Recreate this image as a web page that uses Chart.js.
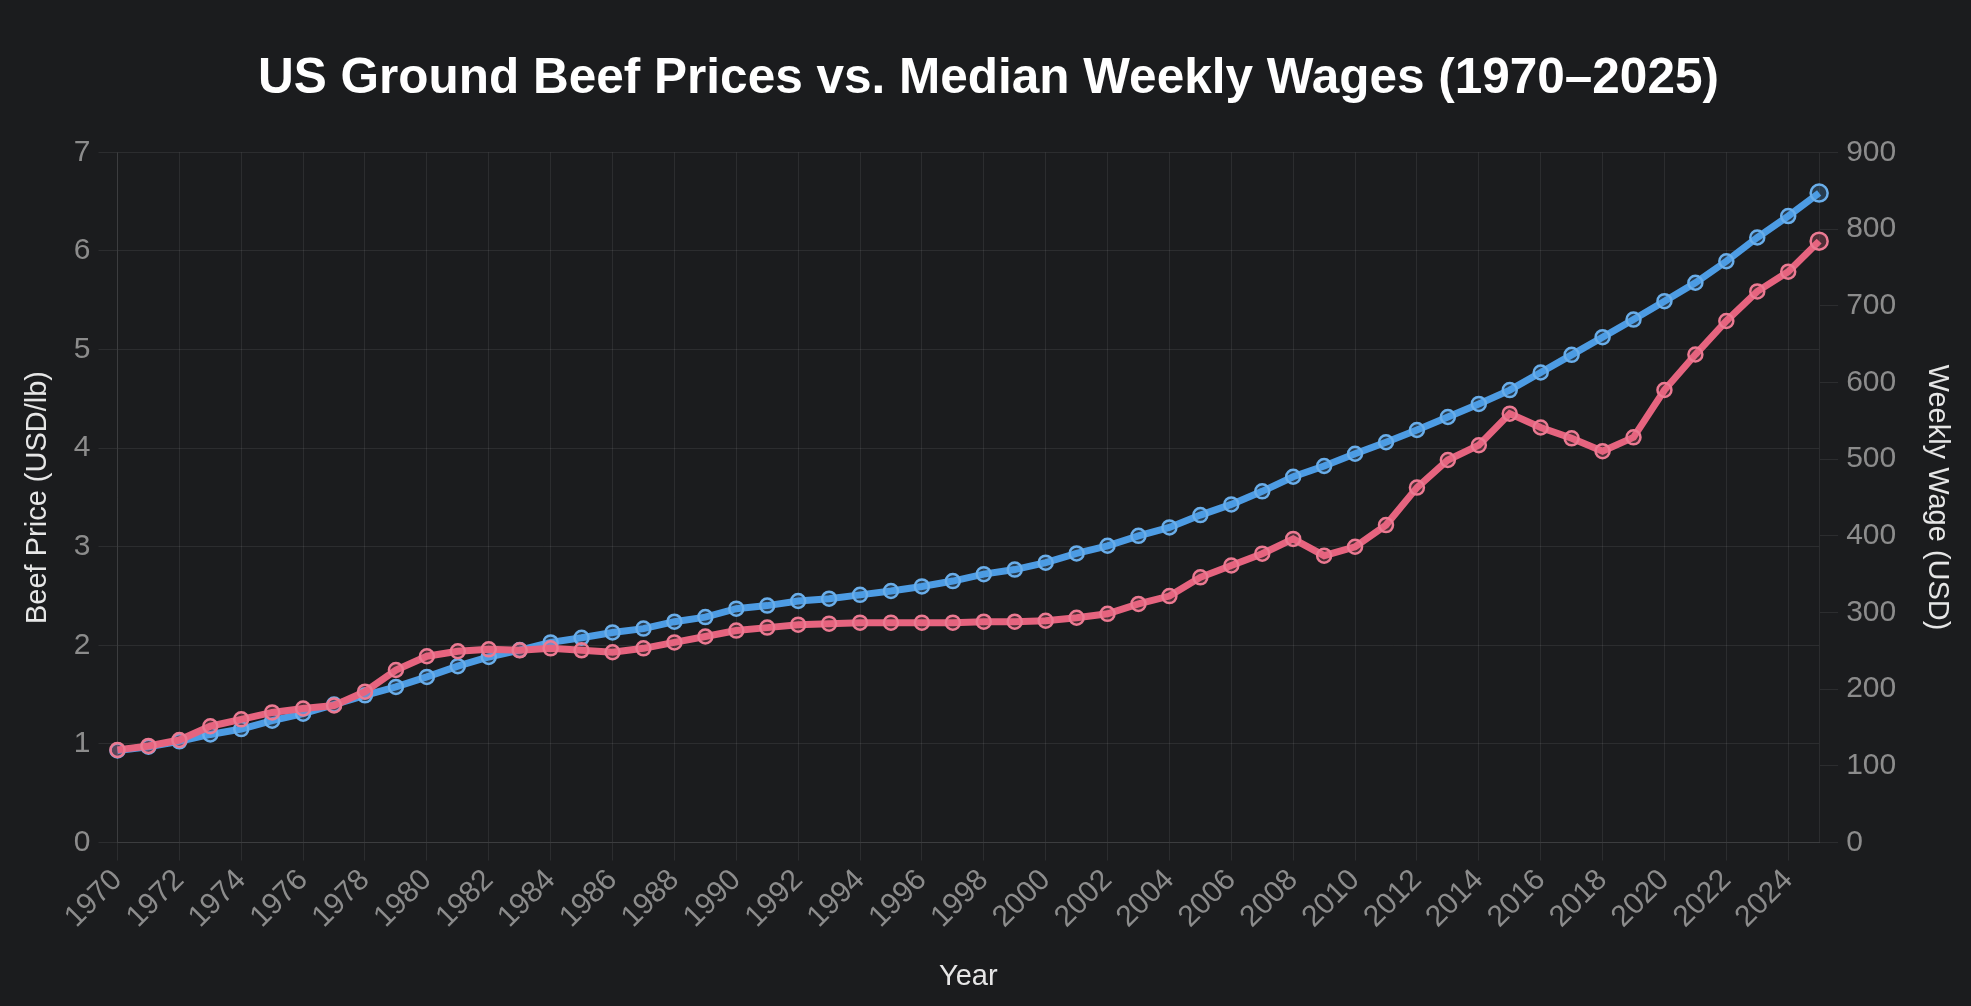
<!DOCTYPE html>
<html>
<head>
<meta charset="utf-8">
<title>US Ground Beef Prices vs. Median Weekly Wages</title>
<script src="https://cdn.jsdelivr.net/npm/chart.js@4.4.1/dist/chart.umd.min.js"></script>
<style>
    html, body {
        margin: 0;
        padding: 0;
        background: #1b1c1e;
        overflow: hidden;
    }
    #wrap {
        width: 1971px;
        height: 1006px;
        position: relative;
    }
</style>
</head>
<body>
<div id="wrap"><canvas id="myChart"></canvas></div>
<script>
// years on the x axis
const years = [];
for (let y = 1970; y <= 2025; y++) years.push(String(y));

// ground beef, USD per lb (left axis)
const beefPrice = [
    0.94, 0.98, 1.04, 1.18, 1.25, 1.32, 1.36, 1.39, 1.53, 1.75,
    1.89, 1.94, 1.96, 1.95, 1.97, 1.95, 1.93, 1.97, 2.03, 2.09,
    2.15, 2.18, 2.21, 2.22, 2.23, 2.23, 2.23, 2.23, 2.24, 2.24,
    2.25, 2.28, 2.32, 2.42, 2.50, 2.69, 2.81, 2.93, 3.08, 2.91,
    3.00, 3.22, 3.60, 3.88, 4.03, 4.35, 4.21, 4.10, 3.97, 4.11,
    4.59, 4.95, 5.29, 5.59, 5.79, 6.10
];

// median weekly wage, USD (right axis)
const weeklyWage = [
    120, 125, 132, 141, 148, 159, 168, 180, 192, 203,
    216, 230, 242, 251, 261, 267, 274, 279, 288, 294,
    305, 309, 315, 318, 323, 328, 334, 341, 350, 356,
    365, 377, 387, 400, 411, 427, 441, 458, 477, 491,
    507, 522, 538, 555, 572, 590, 613, 636, 659, 682,
    706, 730, 758, 789, 817, 847
];

const beefMax = 7;
const wageMax = 900;

const gridColor = 'rgba(255, 255, 255, 0.08)';
const tickColor = '#8c8c8c';
const fontFamily = '"Liberation Sans", Arial, Helvetica, sans-serif';

// last point of each line is drawn a bit bigger
const radiusFn = ctx => ctx.dataIndex === years.length - 1 ? 8.5 : 7;

document.addEventListener("DOMContentLoaded", function() {
    const ctx = document.getElementById('myChart').getContext('2d');
    const myChart = new Chart(ctx, {
        type: 'line',
        data: {
            labels: years,
            datasets: [{
                label: 'Ground Beef Price (USD/lb)',
                data: beefPrice,
                yAxisID: 'yBeef',
                borderColor: '#e6647f',
                backgroundColor: 'rgba(230, 100, 127, 0.25)',
                pointBorderColor: '#ec7a92',
                pointBackgroundColor: 'rgba(230, 100, 127, 0.25)',
                borderWidth: 7,
                pointRadius: radiusFn,
                pointBorderWidth: 2.5,
                tension: 0,
                clip: false
            }, {
                label: 'Median Weekly Wage (USD)',
                data: weeklyWage,
                yAxisID: 'yWage',
                borderColor: '#4d9ce4',
                backgroundColor: 'rgba(77, 156, 228, 0.25)',
                pointBorderColor: '#6aaeea',
                pointBackgroundColor: 'rgba(77, 156, 228, 0.25)',
                borderWidth: 7,
                pointRadius: radiusFn,
                pointBorderWidth: 2.5,
                tension: 0,
                clip: false
            }]
        },
        options: {
            responsive: true,
            maintainAspectRatio: false,
            animation: false,
            layout: {
                padding: { top: 20, left: 10, right: 4, bottom: 6 }
            },
            plugins: {
                legend: { display: false },
                tooltip: { enabled: false },
                title: {
                    display: true,
                    text: 'US Ground Beef Prices vs. Median Weekly Wages (1970–2025)',
                    color: '#ffffff',
                    font: { family: fontFamily, size: 49.5, weight: 'bold' },
                    padding: { top: 30, bottom: 43 }
                }
            },
            scales: {
                x: {
                    grid: { color: gridColor, tickLength: 18 },
                    border: { color: gridColor },
                    ticks: {
                        color: tickColor,
                        font: { family: fontFamily, size: 30 },
                        minRotation: 45,
                        maxRotation: 45,
                        autoSkip: true,
                        maxTicksLimit: 28,
                        padding: 2
                    },
                    title: {
                        display: true,
                        text: 'Year',
                        color: '#e6e6e6',
                        font: { family: fontFamily, size: 29 },
                        padding: { top: 22, bottom: 6 }
                    }
                },
                yBeef: {
                    position: 'left',
                    min: 0,
                    max: beefMax,
                    grid: { color: gridColor, tickLength: 19 },
                    border: { color: gridColor },
                    ticks: {
                        stepSize: 1,
                        color: tickColor,
                        font: { family: fontFamily, size: 30 },
                        padding: 8
                    },
                    title: {
                        display: true,
                        text: 'Beef Price (USD/lb)',
                        color: '#e6e6e6',
                        font: { family: fontFamily, size: 29 },
                        padding: { top: 11, bottom: 10 }
                    }
                },
                yWage: {
                    position: 'right',
                    min: 0,
                    max: wageMax,
                    grid: { color: gridColor, tickLength: 19, drawOnChartArea: false },
                    border: { color: gridColor },
                    ticks: {
                        stepSize: 100,
                        color: tickColor,
                        font: { family: fontFamily, size: 30 },
                        padding: 8
                    },
                    title: {
                        display: true,
                        text: 'Weekly Wage (USD)',
                        color: '#e6e6e6',
                        font: { family: fontFamily, size: 29 },
                        padding: { top: 13, bottom: 15 }
                    }
                }
            }
        }
    });
});
</script>
</body>
</html>
